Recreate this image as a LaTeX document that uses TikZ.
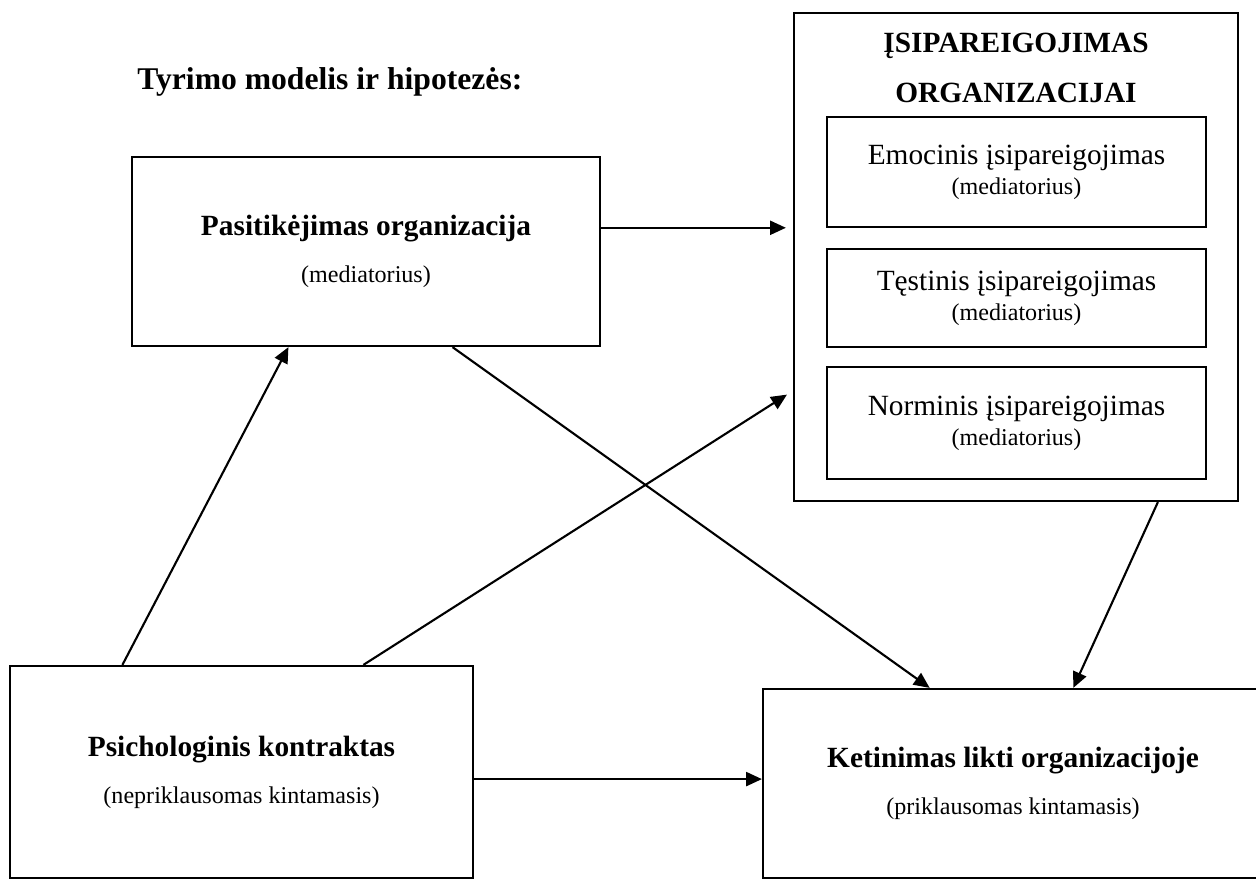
\documentclass[tikz,border=0pt]{standalone}
\usepackage{fontspec}
\setmainfont{Liberation Serif}
\usetikzlibrary{arrows.meta,calc}
\newcommand{\boxline}{1.3pt}
\newcommand{\arrline}{1.2pt}
\newcommand{\headfont}{\fontsize{16.7}{26.7}\selectfont}
\newcommand{\subhead}{\fontsize{16.7}{17}\selectfont}
\newcommand{\notefont}{\fontsize{13.7}{16}\selectfont}

\begin{document}
\begin{tikzpicture}[x=0.02cm, y=-0.02cm]
                %\draw[help lines] (0,0) grid (1256,880);
                \useasboundingbox (0,0) rectangle (1256,880);
                \tikzset{varbox/.style = {draw, line width = \boxline, inner sep = 0pt, align = center, font = \headfont},
                         link/.style = {line width = \arrline, -{Triangle[length=9pt, width=8pt]}}}
                \node[anchor = base west, inner sep = 0pt, font = \fontsize{18}{20}\selectfont\bfseries] (title) at (137, 89) {Tyrimo modelis ir hipotezės:};
                % kintamieji
                \node[varbox, minimum width = 9.36cm, minimum height = 3.78cm] (trust) at (366, 251.5)
                    {\bfseries Pasitikėjimas organizacija\\ \notefont (mediatorius)};
                \node[varbox, minimum width = 9.26cm, minimum height = 4.24cm] (psy) at (241.5, 772)
                    {\bfseries Psichologinis kontraktas\\ \notefont (nepriklausomas kintamasis)};
                \node[varbox, minimum width = 10cm, minimum height = 3.78cm] (intent) at (1013, 783.5)
                    {\bfseries Ketinimas likti organizacijoje\\ \notefont (priklausomas kintamasis)};
                % isipareigojimas
                \node[varbox, minimum width = 8.88cm, minimum height = 9.76cm] (commit) at (1016, 257) {};
                \node[align = center, inner sep = 0pt, font = \fontsize{16.7}{28.5}\selectfont\bfseries] (committitle) at (1016, 68)
                    {ĮSIPAREIGOJIMAS\\ ORGANIZACIJAI};
                \node[varbox, font = \subhead, minimum width = 7.58cm, minimum height = 2.2cm] (emo) at (1016.5, 172)
                    {Emocinis įsipareigojimas\\ \notefont (mediatorius)};
                \node[varbox, font = \subhead, minimum width = 7.58cm, minimum height = 1.96cm] (cont) at (1016.5, 298)
                    {Tęstinis įsipareigojimas\\ \notefont (mediatorius)};
                \node[varbox, font = \subhead, minimum width = 7.58cm, minimum height = 2.24cm] (norm) at (1016.5, 423)
                    {Norminis įsipareigojimas\\ \notefont (mediatorius)};
                % rysiai
                \coordinate (trustout) at ($(trust.north east)!0.376!(trust.south east)$);
                \coordinate (psyout) at ($(psy.north east)!0.533!(psy.south east)$);
                \draw[link] ($(psy.north west)!0.244!(psy.north east)$) -- ($(trust.south west)!0.335!(trust.south east)$);
                \draw[link, shorten >= 4pt] ($(psy.north west)!0.762!(psy.north east)$) -- ($(commit.north west)!0.773!(commit.south west)$);
                \draw[link, shorten >= 4pt] (trustout) -- (trustout -| commit.west);
                \draw[link] ($(trust.south west)!0.684!(trust.south east)$) -- ($(intent.north west)!0.334!(intent.north east)$);
                \draw[link] ($(commit.south west)!0.818!(commit.south east)$) -- ($(intent.north west)!0.62!(intent.north east)$);
                \draw[link] (psyout) -- (psyout -| intent.west);
\end{tikzpicture}
\end{document}
